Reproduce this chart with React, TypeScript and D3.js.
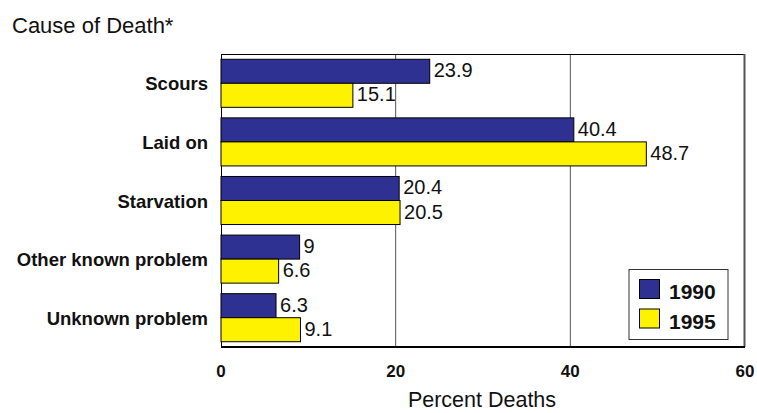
import React from "react";
import * as d3 from "d3";

const categories = ["Scours", "Laid on", "Starvation", "Other known problem", "Unknown problem"];
const seriesNames = ["1990", "1995"];
const values1990 = [23.9, 40.4, 20.4, 9, 6.3];
const values1995 = [15.1, 48.7, 20.5, 6.6, 9.1];
const xTicks = [0, 20, 40, 60];
const colors = ["#2E3192", "#FFF200"];

const W = 757;
const H = 413;
const left = 221;
const right = 745;
const top = 54;
const bottom = 347;

export default function App() {
  const x = d3.scaleLinear().domain([0, 60]).range([left, right]);
  const y = d3
    .scaleBand<string>()
    .domain(categories)
    .range([top, bottom])
    .paddingInner(0.18)
    .paddingOuter(0.09);
  const ys = d3.scaleBand<string>().domain(seriesNames).range([0, y.bandwidth()]);
  const series = [values1990, values1995];
  const font = "Arial, 'Liberation Sans', Helvetica, sans-serif";

  return (
    <svg
      width={W}
      height={H}
      style={{ position: "absolute", left: 0, top: 0, fontFamily: font }}
    >
      <rect x={0} y={0} width={W} height={H} fill="#fff" />
      <text x={12} y={33} fontSize={22} fill="#111">
        Cause of Death*
      </text>
      {/* gridlines */}
      {xTicks.slice(1, -1).map((t) => (
        <line key={t} x1={x(t)} x2={x(t)} y1={top} y2={bottom} stroke="#555" strokeWidth={1} />
      ))}
      {/* frame */}
      <line x1={left} x2={right} y1={top + 0.5} y2={top + 0.5} stroke="#000" strokeWidth={1} />
      <line x1={right - 0.5} x2={right - 0.5} y1={top} y2={bottom} stroke="#555" strokeWidth={2} />
      <line x1={left + 0.5} x2={left + 0.5} y1={top} y2={bottom} stroke="#000" strokeWidth={1} />
      {/* bars */}
      {categories.map((c, i) => (
        <g key={c}>
          {series.map((vals, s) => {
            const by = (y(c) as number) + (ys(seriesNames[s]) as number);
            const bh = ys.bandwidth();
            return (
              <g key={s}>
                <rect
                  x={x(0)}
                  y={by}
                  width={x(vals[i]) - x(0)}
                  height={bh}
                  fill={colors[s]}
                  stroke="#000"
                  strokeWidth={1}
                />
                <text x={x(vals[i]) + 4} y={by + bh / 2 + 6} fontSize={20} fill="#111">
                  {vals[i]}
                </text>
              </g>
            );
          })}
          <text
            x={208}
            y={(y(c) as number) + y.bandwidth() / 2 + 7}
            fontSize={18.5}
            fontWeight="bold"
            textAnchor="end"
            fill="#111"
          >
            {c}
          </text>
        </g>
      ))}
      <line x1={left} x2={right} y1={bottom} y2={bottom} stroke="#000" strokeWidth={2} />
      {/* ticks */}
      {xTicks.map((t) => (
        <text key={t} x={x(t)} y={377} fontSize={17} fontWeight="bold" textAnchor="middle" fill="#111">
          {t}
        </text>
      ))}
      <text x={(left + right) / 2 - 1} y={407} fontSize={21.5} textAnchor="middle" fill="#111">
        Percent Deaths
      </text>
      {/* legend */}
      <rect x={629} y={269.5} width={99} height={70} fill="#fff" stroke="#333" strokeWidth={1} />
      {seriesNames.map((n, s) => (
        <g key={n}>
          <rect x={639.5} y={279.5 + s * 29.5} width={20} height={19} fill={colors[s]} stroke="#000" strokeWidth={1} />
          <text x={669} y={299 + s * 29.5} fontSize={21} fontWeight="bold" fill="#111">
            {n}
          </text>
        </g>
      ))}
    </svg>
  );
}
